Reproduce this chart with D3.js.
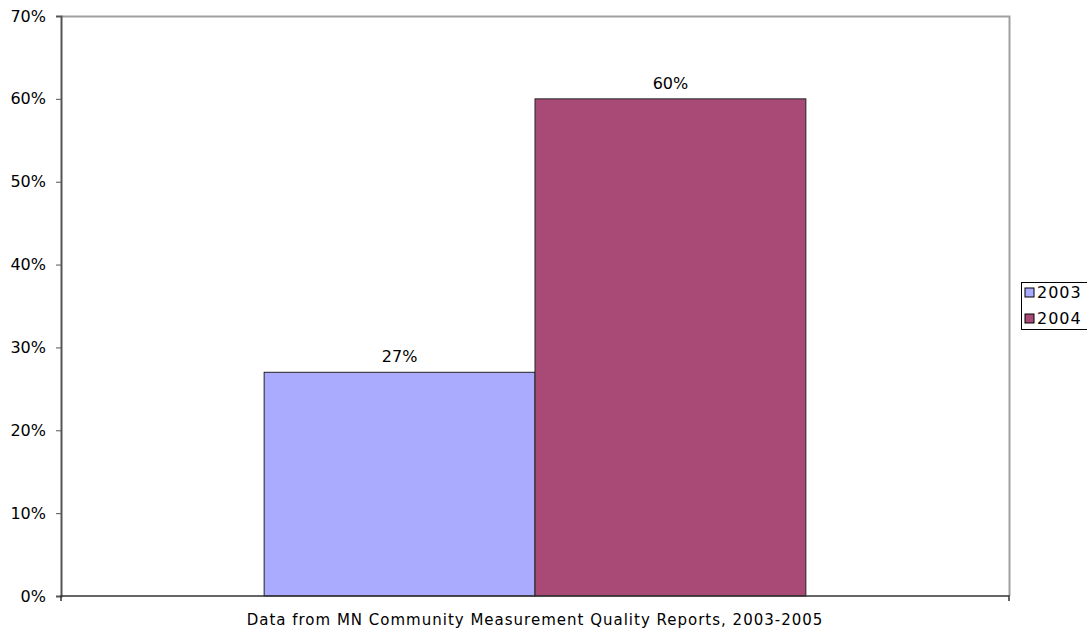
<!DOCTYPE html>
<html>
<head>
<meta charset="utf-8">
<script src="https://cdn.jsdelivr.net/npm/d3@7"></script>
<style>
  body { margin: 0; background: #fff; }
  text { font-family: "DejaVu Sans", Verdana, sans-serif; }
</style>
</head>
<body>
<div id="chart"></div>
<script>
// data
var categories = ["Data from MN Community Measurement Quality Reports, 2003-2005"];
var series = ["2003", "2004"];
var values = [27, 60];
var colors = ["#aaaaff", "#a94a76"];
var yTicks = [0, 10, 20, 30, 40, 50, 60, 70];

var W = 1087, H = 633;
var margin = {top: 16, right: 78, bottom: 37, left: 61},
    width = W - margin.left - margin.right,
    height = H - margin.top - margin.bottom;

var svg = d3.select("#chart").append("svg")
    .attr("width", W).attr("height", H);

var g = svg.append("g")
    .attr("transform", "translate(" + margin.left + "," + margin.top + ")");

var y = d3.scaleLinear().domain([0, 70]).range([height, 0]);

var x0 = d3.scaleBand().domain(categories).range([0, width])
    .paddingInner(0).paddingOuter(0.375);
var x1 = d3.scaleBand().domain(series).range([0, x0.bandwidth()]);

// plot frame (top & right in light grey)
g.append("path")
  .attr("d", "M0.5,0.5H" + (width + 0.5) + "V" + height)
  .attr("fill", "none").attr("stroke", "#a0a0a0").attr("stroke-width", 2);

// bars
g.append("g").selectAll("rect")
  .data(series)
  .enter().append("rect")
    .attr("x", function(d) { return x0(categories[0]) + x1(d); })
    .attr("y", function(d, i) { return y(values[i]); })
    .attr("width", x1.bandwidth())
    .attr("height", function(d, i) { return height - y(values[i]); })
    .attr("fill", function(d, i) { return colors[i]; })
    .attr("stroke", "#222").attr("stroke-width", 1);

// value labels
g.append("g").selectAll("text")
  .data(series)
  .enter().append("text")
    .attr("x", function(d) { return x0(categories[0]) + x1(d) + x1.bandwidth() / 2; })
    .attr("y", function(d, i) { return y(values[i]) - 10; })
    .attr("text-anchor", "middle")
    .attr("font-size", "16px").attr("fill", "#000")
    .text(function(d, i) { return values[i] + "%"; });

// y axis
var yAxis = g.append("g")
  .call(d3.axisLeft(y).tickValues(yTicks).tickSize(5).tickPadding(10)
    .tickFormat(function(d) { return d + "%"; }));
yAxis.select(".domain").attr("stroke", "#555").attr("stroke-width", 2);
yAxis.selectAll(".tick line").attr("stroke", "#555");
yAxis.selectAll(".tick text").attr("font-size", "16px").attr("fill", "#000")
  .attr("font-family", "DejaVu Sans, Verdana, sans-serif");

// x axis
var xAxis = g.append("g")
  .attr("transform", "translate(0," + height + ")")
  .call(d3.axisBottom(x0).tickSize(0).tickPadding(18));
xAxis.select(".domain").attr("stroke", "#333").attr("stroke-width", 1.5)
  .attr("d", "M0,5V0H" + width + "V5");
xAxis.selectAll(".tick text").attr("font-size", "15px").attr("fill", "#000")
  .attr("letter-spacing", "1px")
  .attr("font-family", "DejaVu Sans, Verdana, sans-serif");

// legend
var legend = svg.append("g").attr("transform", "translate(1021,282)");
legend.append("rect")
  .attr("x", 0.5).attr("y", 0.5).attr("width", 70).attr("height", 47)
  .attr("fill", "#fff").attr("stroke", "#000");
var items = legend.selectAll("g.item").data(series).enter().append("g")
  .attr("transform", function(d, i) { return "translate(4," + (6 + i * 26) + ")"; });
items.append("rect")
  .attr("width", 9).attr("height", 9)
  .attr("fill", function(d, i) { return colors[i]; })
  .attr("stroke", "#000");
items.append("text")
  .attr("x", 12).attr("y", 10)
  .attr("font-size", "16px").attr("letter-spacing", "1px").attr("fill", "#000")
  .text(function(d) { return d; });
</script>
</body>
</html>
